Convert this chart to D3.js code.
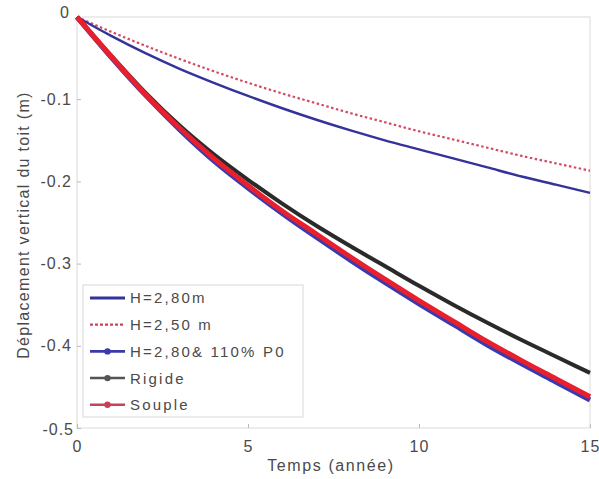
<!DOCTYPE html>
<html><head><meta charset="utf-8">
<script src="https://cdn.jsdelivr.net/npm/d3@7"></script>
<style>body{margin:0;background:#fff}svg{display:block}text{font-family:"Liberation Sans",Arial,sans-serif}</style>
</head><body><svg id="c" width="599" height="479"></svg>
<script>
const years = [0,1,2,3,4,5,6,7,8,9,10,11,12,13,14,15];
const h280 = [0,-0.023,-0.044,-0.063,-0.080,-0.096,-0.111,-0.125,-0.138,-0.150,-0.161,-0.172,-0.183,-0.194,-0.204,-0.214];
const h250 = [0,-0.018,-0.035,-0.051,-0.066,-0.080,-0.093,-0.105,-0.117,-0.128,-0.139,-0.149,-0.159,-0.169,-0.178,-0.187];
const h280p110 = [0,-0.049,-0.095,-0.137,-0.175,-0.208,-0.239,-0.268,-0.296,-0.323,-0.349,-0.374,-0.399,-0.422,-0.444,-0.466];
const rigide = [0,-0.047,-0.092,-0.132,-0.167,-0.198,-0.227,-0.254,-0.279,-0.303,-0.327,-0.350,-0.372,-0.393,-0.413,-0.433];
const souple = [0,-0.048,-0.094,-0.135,-0.172,-0.205,-0.236,-0.264,-0.292,-0.319,-0.345,-0.370,-0.395,-0.418,-0.440,-0.462];
const xTicks = [0,5,10,15];
const yTicks = [0,-0.1,-0.2,-0.3,-0.4,-0.5];
const yTickLabels = ["0","-0.1","-0.2","-0.3","-0.4","-0.5"];
const legendLabels = ["H=2,80m","H=2,50 m","H=2,80& 110% P0","Rigide","Souple"];

const svg = d3.select("#c");
const L=77,R=590,T=17,B=428;
const x = d3.scaleLinear().domain([0,15]).range([L,R]);
const y = d3.scaleLinear().domain([-0.5,0]).range([B,T]);
const txt="#4a4a4a";

svg.append("rect").attr("x",L).attr("y",T).attr("width",R-L).attr("height",B-T)
  .attr("fill","none").attr("stroke","#dadada").attr("stroke-width",1);

const ax = svg.append("g").attr("transform",`translate(0,${B})`)
  .call(d3.axisBottom(x).tickValues(xTicks).tickSize(-4).tickPadding(9).tickFormat(d3.format("d")));
const ay = svg.append("g").attr("transform",`translate(${L},0)`)
  .call(d3.axisLeft(y).tickValues(yTicks).tickSize(-4).tickPadding(5).tickFormat((d,i)=>yTickLabels[i]));
[ax,ay].forEach(g=>{
  g.select(".domain").remove();
  g.selectAll(".tick line").attr("stroke","#bbb");
  g.selectAll("text").attr("fill",txt).style("font-size","16px").style("letter-spacing","1px");
});
ax.selectAll(".tick text").attr("dy","0.95em");
ay.selectAll(".tick text").filter(d=>d===0).attr("dy","0.05em").attr("x",-7);
ay.selectAll(".tick text").filter(d=>d===-0.5).attr("dy","0.4em").attr("x",-3);

const line = d3.line().x((d,i)=>x(years[i])).y(d=>y(d)).curve(d3.curveMonotoneX);
const g = svg.append("g");
g.append("path").datum(h250).attr("d",line).attr("fill","none").attr("stroke","#d44a66").attr("stroke-width",2.2).attr("stroke-dasharray","2.5,2.5");
g.append("path").datum(h280).attr("d",line).attr("fill","none").attr("stroke","#33339a").attr("stroke-width",2.4);
g.append("path").datum(h280p110).attr("d",line).attr("fill","none").attr("stroke","#3a3ab0").attr("stroke-width",5);
g.append("path").datum(rigide).attr("d",line).attr("fill","none").attr("stroke","#2a2a2a").attr("stroke-width",4);
g.append("path").datum(souple).attr("d",line).attr("fill","none").attr("stroke","#e8202e").attr("stroke-width",5);

const lg = svg.append("g");
lg.append("rect").attr("x",83).attr("y",285).attr("width",220).attr("height",132)
  .attr("fill","#fff").attr("stroke","#d8d8d8");
const legStyles = [
  {c:"#33339a",w:2.8,dash:null,m:false},
  {c:"#d0405a",w:2.2,dash:"3,2",m:false},
  {c:"#3a3aa8",w:2.8,dash:null,m:true},
  {c:"#555",w:2.5,dash:null,m:true},
  {c:"#c8405a",w:2.5,dash:null,m:true}
];
legendLabels.forEach((t,i)=>{
  const yy = 298 + i*26.7;
  const s = legStyles[i];
  const l = lg.append("line").attr("x1",90).attr("x2",125).attr("y1",yy).attr("y2",yy)
    .attr("stroke",s.c).attr("stroke-width",s.w);
  if(s.dash) l.attr("stroke-dasharray",s.dash);
  if(s.m) lg.append("circle").attr("cx",107.5).attr("cy",yy).attr("r",3.2).attr("fill",s.c);
  lg.append("text").attr("x",130).attr("y",yy).attr("dy","0.36em").attr("fill",txt)
    .style("font-size","15px").style("letter-spacing","2.2px").text(t);
});

svg.append("text").attr("x",331).attr("y",471).attr("text-anchor","middle").attr("fill",txt)
  .style("font-size","16px").style("letter-spacing","1.6px").text("Temps (année)");
svg.append("text").attr("transform","translate(29,225) rotate(-90)").attr("text-anchor","middle").attr("fill",txt)
  .style("font-size","16px").style("letter-spacing","1.3px").text("Déplacement vertical du toit (m)");
</script></body></html>
